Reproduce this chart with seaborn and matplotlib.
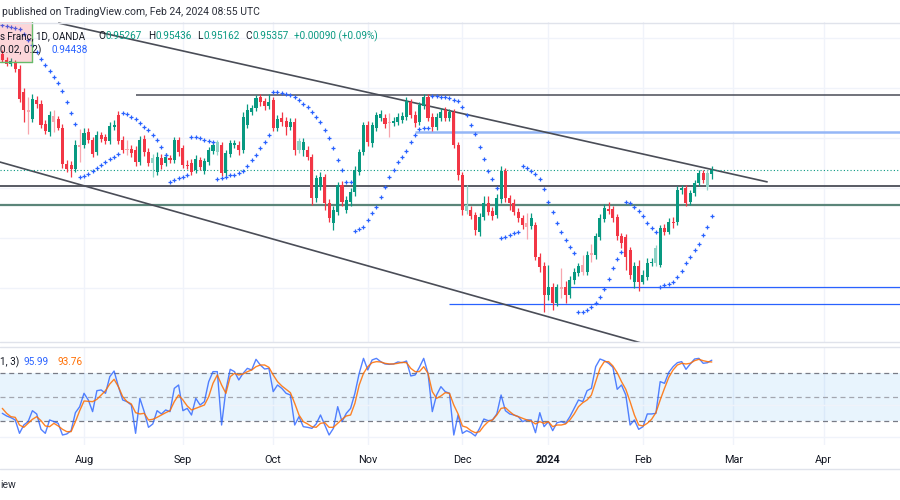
import numpy as np
import pandas as pd
import matplotlib
matplotlib.use('Agg')
import matplotlib.pyplot as plt
import seaborn as sns
from matplotlib.patches import Rectangle

sns.set_theme(style='white')
plt.rcParams['font.family'] = ['Roboto', 'DejaVu Sans']

# OANDA daily bars (no bars on Dec 25 / Jan 1)
days = pd.bdate_range('2023-07-05', '2024-04-30')
days = days[~days.isin(pd.to_datetime(['2023-12-25', '2024-01-01']))]

open_ = [0.9767, 0.9755, 0.9747, 0.9751, 0.9737, 0.9691, 0.9655, 0.9637, 0.9675, 0.9667,
         0.9627, 0.9611, 0.9643, 0.9637, 0.9619, 0.9547, 0.9545, 0.9537, 0.9585, 0.9585,
         0.9611, 0.9595, 0.9571, 0.9605, 0.9601, 0.9593, 0.9621, 0.9645, 0.9595, 0.9577,
         0.9577, 0.9575, 0.9551, 0.9597, 0.9571, 0.9549, 0.9531, 0.9559, 0.9549, 0.9559,
         0.9555, 0.9595, 0.9579, 0.9545, 0.9549, 0.9535, 0.9555, 0.9533, 0.9551, 0.9573,
         0.9571, 0.9585, 0.9529, 0.9567, 0.9585, 0.9585, 0.9575, 0.9625, 0.9651, 0.9659,
         0.9681, 0.9673, 0.9663, 0.9675, 0.9619, 0.9639, 0.9633, 0.9621, 0.9631, 0.9575,
         0.9575, 0.9575, 0.9561, 0.9479, 0.9501, 0.9521, 0.9469, 0.9429, 0.9451, 0.9505,
         0.9455, 0.9471, 0.9491, 0.9531, 0.9571, 0.9625, 0.9589, 0.9619, 0.9639, 0.9639,
         0.9631, 0.9629, 0.9631, 0.9635, 0.9641, 0.9671, 0.9645, 0.9631, 0.9663, 0.9681,
         0.9641, 0.9621, 0.9639, 0.9655, 0.9639, 0.9651, 0.9585, 0.9525, 0.9453, 0.9455,
         0.9445, 0.9411, 0.9441, 0.9469, 0.9453, 0.9445, 0.9477, 0.9533, 0.9479, 0.9469,
         0.9451, 0.9439, 0.9429, 0.9423, 0.9425, 0.9361, 0.9343, 0.9285, 0.9301, 0.9269,
         0.9301, 0.9301, 0.9285, 0.9315, 0.9329, 0.9345, 0.9331, 0.9369, 0.9365, 0.9401,
         0.9437, 0.9457, 0.9457, 0.9441, 0.9403, 0.9401, 0.9375, 0.9311, 0.9343, 0.9311,
         0.9321, 0.9349, 0.9349, 0.9345, 0.9419, 0.9411, 0.9431, 0.9431, 0.9495, 0.9499,
         0.9471, 0.9489, 0.9509, 0.9529, 0.9501, 0.95267]
high_ = [0.9775, 0.9761, 0.9759, 0.9755, 0.9745, 0.9699, 0.9681, 0.9687, 0.9683, 0.9675,
         0.9635, 0.9653, 0.9655, 0.9643, 0.9627, 0.9555, 0.9553, 0.9595, 0.9617, 0.9619,
         0.9619, 0.9601, 0.9613, 0.9611, 0.9607, 0.9631, 0.9635, 0.9653, 0.9603, 0.9595,
         0.9585, 0.9583, 0.9603, 0.9605, 0.9579, 0.9567, 0.9571, 0.9567, 0.9569, 0.9565,
         0.9601, 0.9601, 0.9585, 0.9555, 0.9557, 0.9565, 0.9561, 0.9559, 0.9581, 0.9591,
         0.9595, 0.9591, 0.9575, 0.9595, 0.9595, 0.9593, 0.9651, 0.9667, 0.9665, 0.9685,
         0.9687, 0.9679, 0.9687, 0.9681, 0.9645, 0.9651, 0.9641, 0.9639, 0.9639, 0.9599,
         0.9599, 0.9583, 0.9567, 0.9525, 0.9531, 0.9527, 0.9477, 0.9463, 0.9511, 0.9513,
         0.9483, 0.9499, 0.9543, 0.9577, 0.9631, 0.9633, 0.9631, 0.9651, 0.9655, 0.9647,
         0.9649, 0.9641, 0.9649, 0.9651, 0.9681, 0.9677, 0.9653, 0.9671, 0.9687, 0.9687,
         0.9649, 0.9649, 0.9659, 0.9661, 0.9657, 0.9657, 0.9591, 0.9531, 0.9505, 0.9463,
         0.9451, 0.9449, 0.9483, 0.9483, 0.9461, 0.9487, 0.9543, 0.9539, 0.9485, 0.9477,
         0.9459, 0.9445, 0.9449, 0.9449, 0.9431, 0.9369, 0.9351, 0.9345, 0.9309, 0.9307,
         0.9339, 0.9313, 0.9323, 0.9339, 0.9349, 0.9365, 0.9373, 0.9387, 0.9409, 0.9447,
         0.9467, 0.9471, 0.9463, 0.9447, 0.9409, 0.9407, 0.9381, 0.9351, 0.9355, 0.9335,
         0.9359, 0.9359, 0.9385, 0.9425, 0.9427, 0.9439, 0.9441, 0.9503, 0.9505, 0.9505,
         0.9495, 0.9515, 0.9535, 0.9535, 0.9535, 0.95436]
low_ = [0.9751, 0.9743, 0.9743, 0.9731, 0.9671, 0.9631, 0.9607, 0.9631, 0.9659, 0.9619,
        0.9607, 0.9603, 0.9611, 0.9615, 0.9539, 0.9531, 0.9521, 0.9531, 0.9551, 0.9579,
        0.9589, 0.9561, 0.9565, 0.9591, 0.9587, 0.9587, 0.9615, 0.9587, 0.9569, 0.9565,
        0.9561, 0.9543, 0.9545, 0.9563, 0.9543, 0.9521, 0.9525, 0.9537, 0.9543, 0.9549,
        0.9549, 0.9563, 0.9539, 0.9537, 0.9525, 0.9529, 0.9535, 0.9527, 0.9545, 0.9567,
        0.9565, 0.9523, 0.9523, 0.9561, 0.9579, 0.9565, 0.9569, 0.9619, 0.9645, 0.9653,
        0.9663, 0.9655, 0.9657, 0.9613, 0.9613, 0.9623, 0.9605, 0.9615, 0.9565, 0.9569,
        0.9563, 0.9555, 0.9465, 0.9471, 0.9495, 0.9455, 0.9431, 0.9415, 0.9445, 0.9463,
        0.9449, 0.9463, 0.9483, 0.9525, 0.9565, 0.9583, 0.9581, 0.9613, 0.9633, 0.9619,
        0.9601, 0.9623, 0.9625, 0.9629, 0.9635, 0.9639, 0.9621, 0.9625, 0.9657, 0.9633,
        0.9613, 0.9615, 0.9633, 0.9633, 0.9633, 0.9579, 0.9515, 0.9445, 0.9447, 0.9437,
        0.9405, 0.9403, 0.9435, 0.9445, 0.9435, 0.9439, 0.9469, 0.9471, 0.9455, 0.9445,
        0.9431, 0.9417, 0.9397, 0.9417, 0.9355, 0.9331, 0.9251, 0.9275, 0.9255, 0.9263,
        0.9279, 0.9269, 0.9279, 0.9307, 0.9323, 0.9325, 0.9325, 0.9351, 0.9357, 0.9395,
        0.9431, 0.9447, 0.9431, 0.9395, 0.9379, 0.9335, 0.9317, 0.9299, 0.9293, 0.9307,
        0.9315, 0.9343, 0.9343, 0.9341, 0.9405, 0.9407, 0.9419, 0.9425, 0.9487, 0.9463,
        0.9465, 0.9483, 0.9503, 0.9509, 0.9495, 0.95162]
close_ = [0.9755, 0.9747, 0.9753, 0.9737, 0.9677, 0.9655, 0.9651, 0.9677, 0.9667, 0.9625,
          0.9613, 0.9645, 0.9631, 0.9619, 0.9547, 0.9537, 0.9537, 0.9585, 0.9581, 0.9609,
          0.9595, 0.9567, 0.9605, 0.9597, 0.9593, 0.9623, 0.9625, 0.9593, 0.9575, 0.9575,
          0.9569, 0.9551, 0.9595, 0.9571, 0.9549, 0.9559, 0.9561, 0.9545, 0.9561, 0.9555,
          0.9595, 0.9571, 0.9545, 0.9543, 0.9531, 0.9557, 0.9541, 0.9553, 0.9575, 0.9585,
          0.9591, 0.9529, 0.9569, 0.9589, 0.9589, 0.9575, 0.9641, 0.9655, 0.9659, 0.9679,
          0.9671, 0.9663, 0.9671, 0.9619, 0.9637, 0.9631, 0.9621, 0.9631, 0.9575, 0.9593,
          0.9591, 0.9561, 0.9479, 0.9519, 0.9521, 0.9469, 0.9439, 0.9455, 0.9505, 0.9471,
          0.9475, 0.9491, 0.9535, 0.9571, 0.9625, 0.9591, 0.9625, 0.9645, 0.9647, 0.9627,
          0.9629, 0.9633, 0.9641, 0.9643, 0.9673, 0.9645, 0.9629, 0.9665, 0.9681, 0.9639,
          0.9621, 0.9641, 0.9651, 0.9639, 0.9651, 0.9585, 0.9525, 0.9455, 0.9465, 0.9443,
          0.9415, 0.9441, 0.9469, 0.9451, 0.9443, 0.9479, 0.9533, 0.9479, 0.9469, 0.9451,
          0.9439, 0.9425, 0.9421, 0.9439, 0.9361, 0.9341, 0.9285, 0.9301, 0.9269, 0.9301,
          0.9297, 0.9285, 0.9315, 0.9331, 0.9343, 0.9331, 0.9365, 0.9365, 0.9403, 0.9439,
          0.9459, 0.9453, 0.9439, 0.9403, 0.9389, 0.9361, 0.9325, 0.9343, 0.9311, 0.9325,
          0.9349, 0.9351, 0.9379, 0.9419, 0.9411, 0.9431, 0.9429, 0.9495, 0.9499, 0.9469,
          0.9489, 0.9509, 0.9529, 0.9515, 0.9529, 0.95357]
# bars drawn in the lighter shade
faded = [6, 12, 18, 29, 35, 50, 69, 90, 108, 122, 130, 135, 137, 152, 164]

# Parabolic SAR (0.02, 0.2)
sar = [0.9825, 0.9823, 0.9821, 0.9819, 0.9817, 0.9807, 0.9795, 0.9785, 0.9771, 0.9757,
       0.9745, 0.9733, 0.9721, 0.9709, 0.9693, 0.9671, 0.9649, 0.9627, 0.9521, 0.9523,
       0.9527, 0.9533, 0.9539, 0.9545, 0.9551, 0.9557, 0.9561, 0.9567, 0.9649, 0.9647,
       0.9641, 0.9637, 0.9629, 0.9621, 0.9615, 0.9605, 0.9595, 0.9581, 0.9565, 0.9511,
       0.9515, 0.9519, 0.9521, 0.9525, 0.9601, 0.9601, 0.9599, 0.9595, 0.9593, 0.9591,
       0.9517, 0.9519, 0.9521, 0.9525, 0.9525, 0.9529, 0.9533, 0.9543, 0.9555, 0.9565,
       0.9579, 0.9591, 0.9605, 0.9691, 0.9691, 0.9689, 0.9687, 0.9685, 0.9681, 0.9675,
       0.9667, 0.9661, 0.9651, 0.9641, 0.9631, 0.9615, 0.9599, 0.9579, 0.9555, 0.9535,
       0.9511, 0.9511, 0.9413, 0.9417, 0.9421, 0.9435, 0.9449, 0.9461, 0.9481, 0.9501,
       0.9521, 0.9535, 0.9551, 0.9561, 0.9573, 0.9591, 0.9605, 0.9617, 0.9619, 0.9619,
       0.9683, 0.9683, 0.9681, 0.9681, 0.9679, 0.9675, 0.9673, 0.9661, 0.9645, 0.9625,
       0.9607, 0.9581, 0.9557, 0.9533, 0.9517, 0.9499, 0.9399, 0.9401, 0.9405, 0.9409,
       0.9411, 0.9543, 0.9539, 0.9533, 0.9527, 0.9517, 0.9497, 0.9471, 0.9451, 0.9429,
       0.9411, 0.9395, 0.9381, 0.9369, 0.9251, 0.9251, 0.9255, 0.9261, 0.9269, 0.9281,
       0.9297, 0.9317, 0.9339, 0.9357, 0.9371, 0.9471, 0.9469, 0.9461, 0.9453, 0.9443,
       0.9429, 0.9419, 0.9411, 0.9301, 0.9305, 0.9307, 0.9311, 0.9321, 0.9333, 0.9349,
       0.9361, 0.9375, 0.9387, 0.9405, 0.9421, 0.94438]

# Stochastic (%K blue, %D orange)
stoch_k = [29.6, 26.3, 24.2, 21.3, 4.6, 15, 19.2, 32.9, 28.8, 9.6,
           4.6, 21.3, 19.2, 17.1, 2.5, 3.8, 7.9, 30.4, 37.9, 54.6,
           46.3, 31.7, 57.9, 58.8, 54.6, 75.4, 82.5, 62.9, 46.3, 44.2,
           40, 4.6, 48.3, 31.7, 12.1, 16.3, 32.9, 28.8, 33.8, 31.7,
           60.8, 65, 32.9, 35.8, 27.5, 48.3, 40, 44.2, 69.2, 81.7,
           81.7, 15, 58.8, 84.6, 81.7, 71.3, 79.6, 85.8, 83.8, 97.1,
           90, 85, 85.8, 56.7, 65, 60.8, 54.6, 52.5, 15, 25.4,
           12.9, 12.1, 10.8, 16.3, 27.5, 15, 2.5, 10.8, 37.9, 19.2,
           29.6, 35.8, 54.6, 79.6, 98.3, 83.8, 96.3, 98.3, 94.2, 91.3,
           90.8, 91.3, 93.8, 92.9, 95, 76.3, 77.5, 87.1, 98.3, 79.6,
           31.7, 52.5, 62.9, 56.7, 54.6, 2.5, 27.5, 4.6, 7.9, 5.4,
           1.3, 10.8, 22.5, 20.4, 21.3, 28.8, 52.5, 32.9, 28.8, 27.5,
           25.4, 19.2, 21.3, 21.3, 5.4, 30.4, 12.9, 19.2, 7.9, 17.9,
           19.2, 17.1, 25.4, 35.8, 46.3, 44.2, 57.9, 60.8, 87.9, 97.5,
           95.4, 92.1, 87.1, 59.6, 65, 52.5, 15, 21.3, 9.6, 12.9,
           28.8, 28.8, 29.6, 69.2, 67.1, 80.8, 87.9, 92.9, 94.2, 84.6,
           91.3, 97.5, 98.3, 92.1, 92.9, 95.99]
stoch_d = [35.8, 29.6, 25.4, 24.6, 15, 12.1, 17.1, 22.1, 25.4, 20.4,
           13.8, 12.9, 17.1, 13.8, 9.6, 6.7, 6.7, 19.2, 32.9, 45,
           44.6, 44.2, 47.1, 52.5, 57.9, 66.3, 72.1, 62.9, 50.4, 44.2,
           41.3, 30.4, 28.8, 29.6, 21.3, 22.1, 24.6, 27.5, 30.4, 32.9,
           44.2, 52.5, 46.3, 38.8, 33.8, 35.8, 37.9, 40, 50.4, 67.1,
           77.5, 65, 54.6, 75.4, 79.6, 77.5, 78.8, 81.7, 83.8, 87.9,
           90, 90, 87.1, 77.5, 69.2, 63.8, 59.6, 55.4, 42.1, 27.5,
           19.2, 16.3, 12.9, 12.1, 17.1, 17.9, 12.1, 12.1, 17.1, 22.1,
           26.3, 27.5, 42.1, 65, 79.6, 87.9, 92.9, 94.2, 93.8, 92.1,
           91.3, 91.3, 92.1, 93.3, 92.9, 85.8, 81.7, 81.7, 87.9, 79.6,
           56.7, 48.3, 51.3, 55.4, 54.6, 40, 28.8, 13.8, 12.1, 7.9,
           5.4, 6.7, 13.8, 19.2, 21.3, 27.5, 35.8, 36.7, 31.7, 27.5,
           25.4, 23.3, 21.3, 20, 16.3, 19.2, 17.1, 19.2, 12.9, 15,
           15, 16.3, 21.3, 28.8, 37.9, 42.9, 46.3, 52.5, 69.2, 85.8,
           94.2, 94.2, 88.8, 80.4, 69.2, 59.6, 44.2, 27.5, 15, 13.8,
           17.1, 22.1, 30.4, 46.3, 60.8, 74.6, 83.8, 90, 92.1, 91.3,
           92.1, 95.4, 97.1, 95.4, 94.2, 93.76]

# drawn levels: price, first bar date
level_price = [0.9685, 0.9611, 0.9503, 0.9465, 0.9301, 0.9267]
level_start = ['2023-08-17', '2023-11-16', '2023-07-03', '2023-07-03', '2024-01-09', '2023-11-28']
trend_upper = (['2023-07-24', '2024-03-13'], [0.9829, 0.9511])
trend_lower = (['2023-07-04', '2024-02-01'], [0.9552, 0.9188])

month_starts = ['2023-08', '2023-09', '2023-10', '2023-11', '2023-12',
                '2024-01', '2024-02', '2024-03', '2024-04']
month_labels = ['Aug', 'Sep', 'Oct', 'Nov', 'Dec', '2024', 'Feb', 'Mar', 'Apr']

UP, DOWN = '#089981', '#f23645'
UP_PALE, DOWN_PALE = '#8fd3c6', '#f7a6ae'
BLUE, ORANGE = '#2962ff', '#ff6d00'
TXT = '#131722'
GRID = '#f0f3fa'


def bar_pos(d):
    # bar number of a date; dates before the first bar count back in weekdays
    t = pd.Timestamp(d)
    if t < days[0]:
        return -float(np.busday_count(t.date(), days[0].date()))
    return float(np.searchsorted(days, t))


o = np.array(open_); h = np.array(high_); l = np.array(low_); c = np.array(close_)
n = len(c)
idx = np.arange(n)
tick_pos = [int(np.argmax(days >= pd.Timestamp(m + '-01'))) for m in month_starts]

W, H = 900, 500
fig = plt.figure(figsize=(9, 5), dpi=100)
fig.patch.set_facecolor('white')
ax = fig.add_axes([0, 1 - 343 / H, 1, (343 - 22) / H])
ax2 = fig.add_axes([0, 1 - 445 / H, 1, (445 - 347) / H], sharex=ax)

xlim = (-0.535, 208.77)
for a in (ax, ax2):
    a.set_facecolor('white')
    for s in a.spines.values():
        s.set_visible(False)
    for t in tick_pos:
        a.axvline(t, color=GRID, lw=1, zorder=0)

# ---- price pane
for p in [0.93, 0.94, 0.95, 0.96, 0.97, 0.98]:
    ax.axhline(p, color=GRID, lw=1, zorder=0)

for p, s, col, lw in zip(level_price, level_start,
                         ['#4a4d57', '#94b6f7', '#4a4d57', '#5b8579', BLUE, BLUE],
                         [1.1, 1.8, 1.3, 1.6, 0.9, 0.9]):
    ax.hlines(p, max(bar_pos(s), xlim[0] - 1), xlim[1] + 1, color=col, lw=lw, zorder=2)

for tx, ty in (trend_upper, trend_lower):
    ax.plot([bar_pos(d) for d in tx], ty, color='#4a4d57', lw=1.2, zorder=2,
            solid_capstyle='butt')

ax.axhline(c[-1], color=UP, lw=0.8, ls=(0, (1, 2)), zorder=2)

up = c >= o
cols = np.where(up, UP, DOWN).astype(object)
for i in faded:
    cols[i] = UP_PALE if up[i] else DOWN_PALE
ax.vlines(idx, l, h, colors=list(cols), lw=0.9, zorder=3)
ax.bar(idx, np.maximum(np.abs(c - o), 0.00012), bottom=np.minimum(o, c),
       width=0.7, color=list(cols), lw=0, zorder=4)

sns.scatterplot(x=idx, y=sar, ax=ax, marker='+', s=6, color=BLUE,
                linewidth=0.9, zorder=5, legend=False)

# highlighted box in the top-left corner
x_box = bar_pos('2023-07-13') + 0.9
ax.add_patch(Rectangle((xlim[0] - 2, 0.9751), x_box - xlim[0] + 2, 0.02,
                       facecolor=DOWN, alpha=0.2, lw=0, zorder=6))
ax.plot([x_box, x_box], [0.9751, 0.99], color='#66bb6a', lw=1, zorder=6)
ax.plot([xlim[0], x_box], [0.9751, 0.9751], color='#66bb6a', lw=1, zorder=6)

ax.set_xlim(*xlim)
ax.set_ylim(0.9875 - 343 / 5000, 0.9875 - 22 / 5000)
ax.set_yticks([])
ax.tick_params(axis='x', length=0, labelbottom=False)

# ---- stochastic pane
ax2.axhspan(20, 80, color='#2196f3', alpha=0.1, lw=0, zorder=0)
for v in [0, 40]:
    ax2.axhline(v, color=GRID, lw=1, zorder=0)
for v, col in [(80, '#787b86'), (50, '#a3a6af'), (20, '#787b86')]:
    ax2.axhline(v, color=col, lw=0.9, ls=(0, (4, 3)), zorder=1)
sns.lineplot(x=idx, y=stoch_k, ax=ax2, color=BLUE, lw=1, alpha=0.8, zorder=3)
sns.lineplot(x=idx, y=stoch_d, ax=ax2, color=ORANGE, lw=1, alpha=0.85, zorder=3)
ax2.set_ylim(-10, 112.5)
ax2.set_yticks([])
ax2.set_ylabel('')
ax2.set_xticks(tick_pos)
ax2.set_xticklabels(month_labels)
ax2.tick_params(axis='x', length=0, pad=7, labelsize=7.8, labelcolor=TXT)
for lab in ax2.get_xticklabels():
    if lab.get_text() == '2024':
        lab.set_fontweight('bold')

# ---- frame lines and texts
for yy in [22.5, 341.5, 347, 469]:
    fig.add_artist(plt.Line2D([0, 1], [1 - yy / H] * 2, color='#e0e3eb', lw=1))


def put(x, y, s, color=TXT, size=7.2, **kw):
    fig.text(x / W, 1 - y / H, s, color=color, fontsize=size, va='center', ha='left', **kw)


put(2, 12, 'published on TradingView.com, Feb 24, 2024 08:55 UTC', color='#2a2e39', size=7.5)
put(0, 36, 's Franc, 1D, OANDA', size=7)
put(98, 36, 'O'); put(105, 36, '0.95267', color=UP)
put(148, 36, 'H'); put(155, 36, '0.95436', color=UP)
put(197, 36, 'L'); put(203, 36, '0.95162', color=UP)
put(245, 36, 'C'); put(252, 36, '0.95357', color=UP)
put(294, 36, '+0.00090 (+0.09%)', color=UP)
put(0, 50, '0.02, 0.2)')
put(51, 50, '0.94438', color=BLUE)
put(0, 362, '1, 3)')
put(23, 362, '95.99', color=BLUE)
put(58, 362, '93.76', color=ORANGE)
put(0, 485, 'iew', color='#2a2e39', size=7.5)

fig.savefig('out.png', dpi=100, facecolor='white')
